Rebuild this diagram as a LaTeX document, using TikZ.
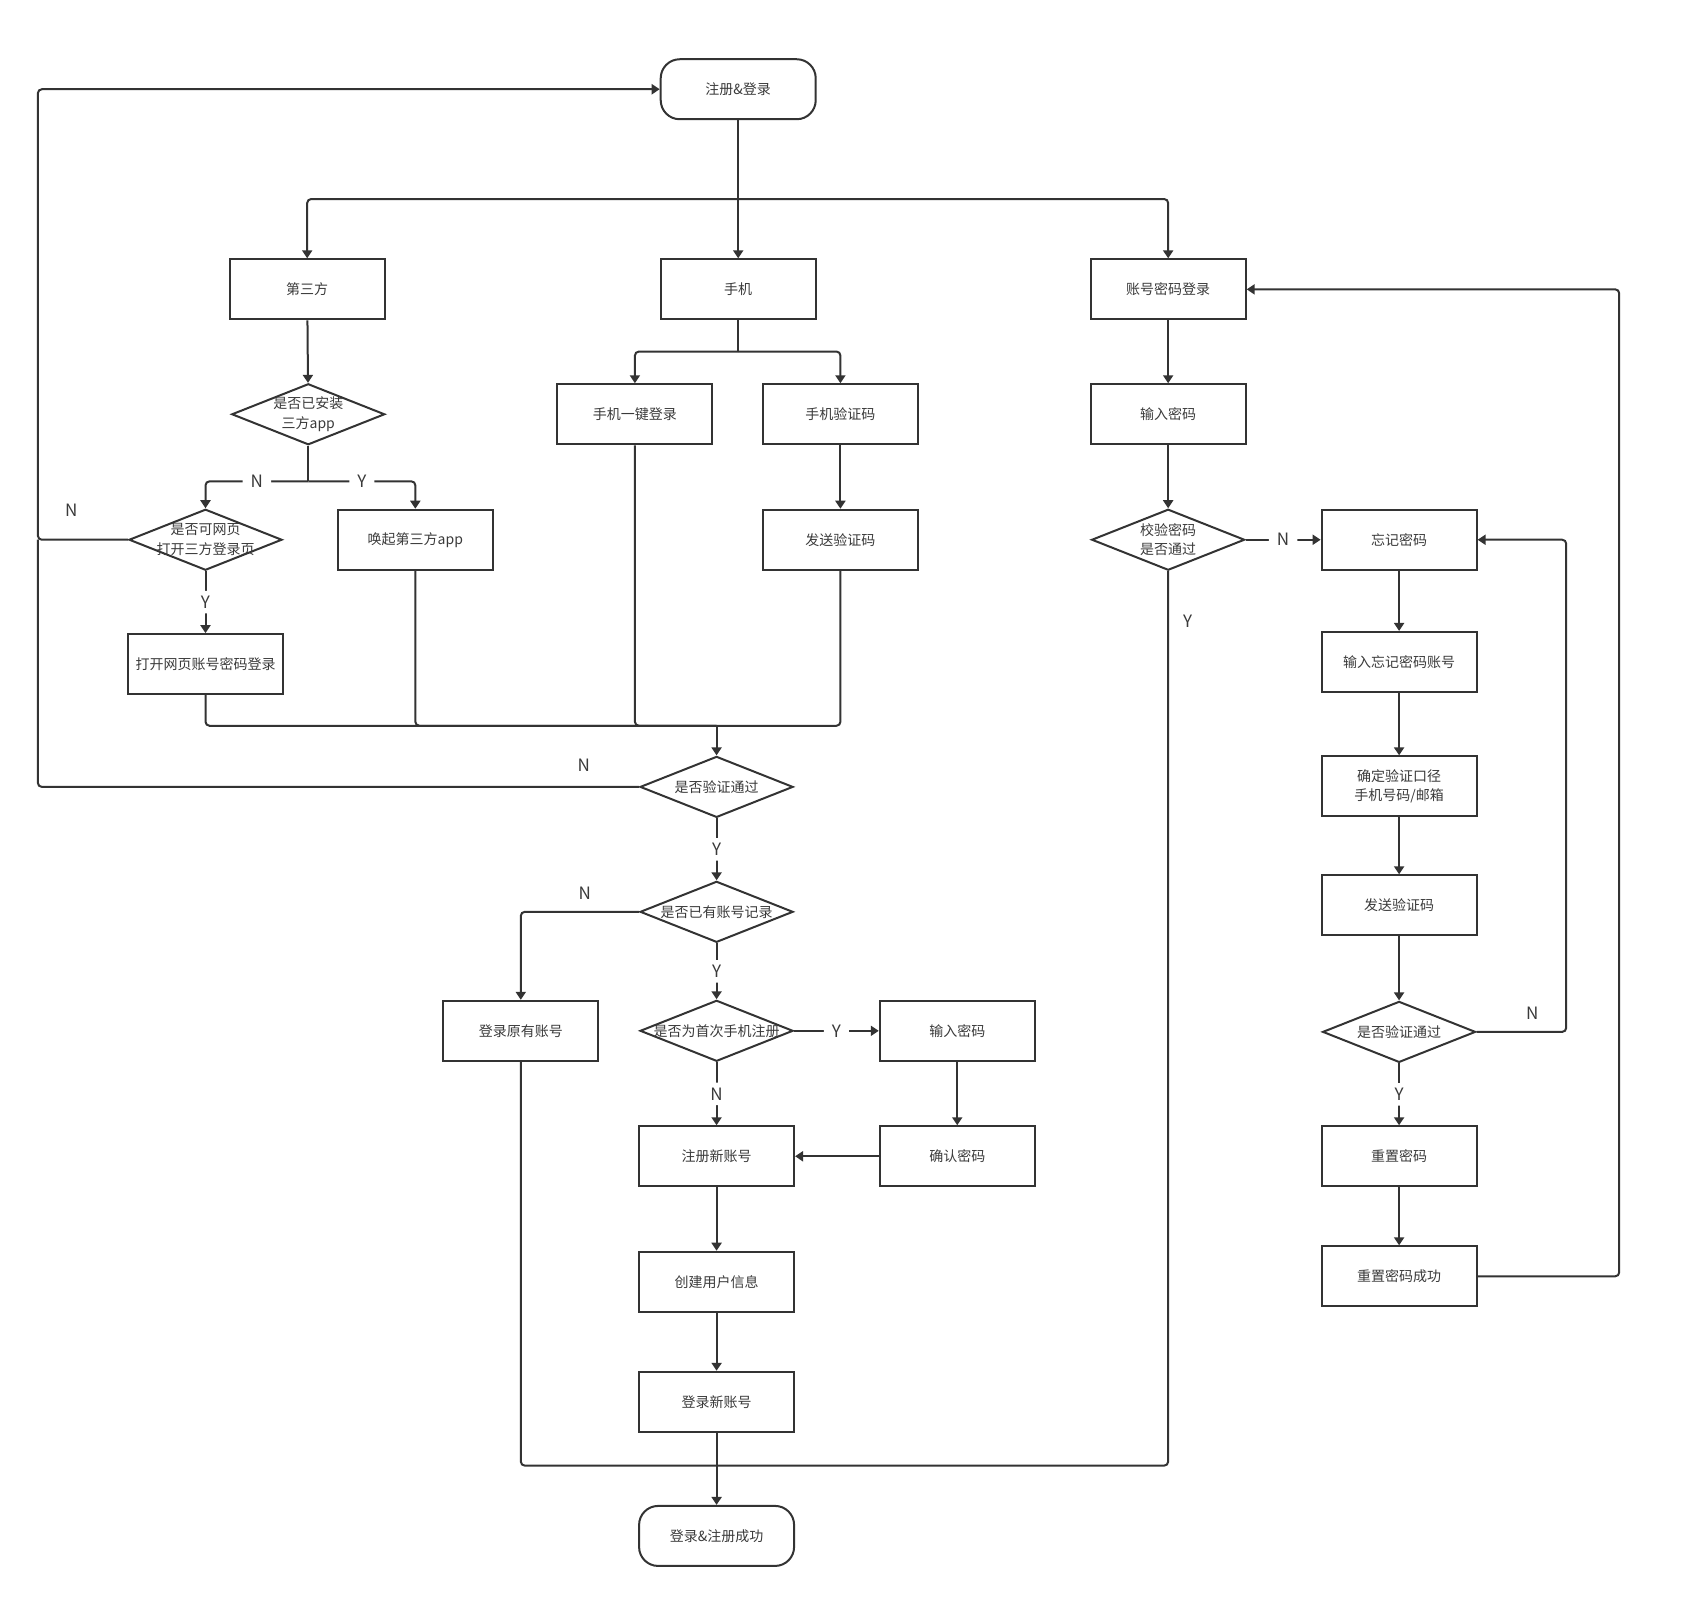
\documentclass[tikz,border=0pt]{standalone}
\usepackage{fontspec}
\usepackage{tikz}
\usetikzlibrary{calc}
\usetikzlibrary{positioning}
\usetikzlibrary{shapes}
\usetikzlibrary{arrows.meta}
\newfontfamily\cjk{Noto Sans CJK SC}
\definecolor{lineColor}{HTML}{333333}
\definecolor{textColor}{HTML}{3A3A3A}

\begin{document}
\begin{tikzpicture}[
			x=1.0816pt, y=-1.0816pt,
			box/.style={rectangle, draw=lineColor, line width=2pt, minimum width=155pt, minimum height=60pt, font=\cjk\fontsize{14}{19.5}\selectfont, text=textColor, align=center},
			term/.style={box, rounded corners=19pt},
			dec/.style={diamond, draw=lineColor, line width=2pt, minimum width=153pt, minimum height=61pt, inner xsep=-40pt, inner ysep=-12pt, font=\cjk\fontsize{14}{19.5}\selectfont, text=textColor, align=center},
			flow/.style={draw=lineColor, line width=2pt, rounded corners=4pt},
			arr/.style={flow, -{Triangle[length=8pt, width=10pt]}},
			lbl/.style={fill=white, inner xsep=8pt, inner ysep=5pt, font=\cjk\fontsize{17}{17}\selectfont, text=textColor},
			side/.style={inner sep=0pt, font=\cjk\fontsize{17}{17}\selectfont, text=textColor},
			]
			\useasboundingbox (0,0) rectangle (1568,1498);
			% top
			\node[term] (start) at (682.5,82.5) {注册\&登录};
			\node[box] (third) at (284,267.5) {第三方};
			\node[box] (phone) at (682.5,267.5) {手机};
			\node[box] (acct) at (1080,267.5) {账号密码登录};
			% third party column
			\node[dec] (qinst) at (285,383) {是否已安装\\三方app};
			\node[dec] (qweb) at (190,499) {是否可网页\\打开三方登录页};
			\node[box] (wake) at (384,499) {唤起第三方app};
			\node[box] (webpwd) at (190,614) {打开网页账号密码登录};
			% phone column
			\node[box] (onekey) at (587,383) {手机一键登录};
			\node[box] (smscode) at (777,383) {手机验证码};
			\node[box] (send1) at (777,499) {发送验证码};
			% password column
			\node[box] (pwd1) at (1080,383) {输入密码};
			\node[dec] (qpwd) at (1080,499) {校验密码\\是否通过};
			% forgot password
			\node[box] (forget) at (1293.5,499) {忘记密码};
			\node[box] (inacc) at (1293.5,612) {输入忘记密码账号};
			\node[box] (way) at (1293.5,727) {确定验证口径\\手机号码/邮箱};
			\node[box] (send2) at (1293.5,837) {发送验证码};
			\node[dec] (qok) at (1293.5,954) {是否验证通过};
			\node[box] (reset) at (1293.5,1069) {重置密码};
			\node[box] (resetok) at (1293.5,1180) {重置密码成功};
			% lower column
			\node[dec] (qpass) at (662.5,727.5) {是否验证通过};
			\node[dec] (qrec) at (662.5,843) {是否已有账号记录};
			\node[box] (oldacc) at (481.5,953) {登录原有账号};
			\node[dec] (qfirst) at (662.5,953) {是否为首次手机注册};
			\node[box] (pwd2) at (885,953) {输入密码};
			\node[box] (newacc) at (662.5,1069) {注册新账号};
			\node[box] (confirm) at (885,1069) {确认密码};
			\node[box] (create) at (662.5,1185) {创建用户信息};
			\node[box] (loginnew) at (662.5,1296) {登录新账号};
			\node[term] (done) at (662.5,1420) {登录\&注册成功};
			% helper points
			\coordinate (s1) at (682.5,184);
			\coordinate (s2) at (682.5,325);
			\coordinate (s3) at (285,445);
			\coordinate (m1) at (662.5,671);
			\coordinate (m2) at (662.5,1355);
			\coordinate (lft) at (35,0);
			\coordinate (r1) at (1448,0);
			\coordinate (r2) at (1497,0);
			% straight arrows
			\foreach \a/\b in {start/phone, third/qinst, acct/pwd1, pwd1/qpwd, smscode/send1, pwd2/confirm, confirm/newacc, newacc/create, create/loginnew, loginnew/done, forget/inacc, inacc/way, way/send2, send2/qok, reset/resetok} \draw[arr] (\a) -- (\b);
			\foreach \t in {third,acct} \draw[arr] (s1) -| (\t.north);
			\draw[flow] (phone) -- (s2);
			\foreach \t in {onekey,smscode} \draw[arr] (s2) -| (\t.north);
			% third party branch
			\draw[flow] (qinst.south) -- (s3);
			\draw[arr] (s3) -| node[lbl, pos=0.25] {N} (qweb.north);
			\draw[arr] (s3) -| node[lbl, pos=0.25] {Y} (wake.north);
			\draw[arr] (qweb) -- node[lbl] {Y} (webpwd);
			\draw[arr] (qweb.west) -| node[side, pos=0.315, above=22pt] {N} (lft |- start.west) -- (start.west);
			% merge into check
			\foreach \s in {webpwd,wake,onekey,send1} \draw[flow] (\s.south) |- (m1);
			\draw[arr] (m1) -- (qpass.north);
			\draw[flow] (qpass.west) -| node[side, pos=0.046, above=14pt] {N} (lft |- qweb.west);
			\draw[arr] (qpass) -- node[lbl] {Y} (qrec);
			\draw[arr] (qrec.west) -| node[side, pos=0.23, above=11pt] {N} (oldacc.north);
			\draw[arr] (qrec) -- node[lbl] {Y} (qfirst);
			\draw[arr] (qfirst) -- node[lbl] {Y} (pwd2);
			\draw[arr] (qfirst) -- node[lbl] {N} (newacc);
			% merge into success
			\draw[flow] (oldacc.south) |- (m2);
			\draw[flow] (qpwd.south) |- node[side, pos=0.028, right=14pt] {Y} (m2);
			% password branch
			\draw[arr] (qpwd) -- node[lbl] {N} (forget);
			\draw[arr] (qok) -- node[lbl] {Y} (reset);
			\draw[arr] (qok.east) -| node[side, pos=0.31, above=11pt] {N} (r1 |- forget.east) -- (forget.east);
			\draw[arr] (resetok.east) -| (r2 |- acct.east) -- (acct.east);
		\end{tikzpicture}
\end{document}
